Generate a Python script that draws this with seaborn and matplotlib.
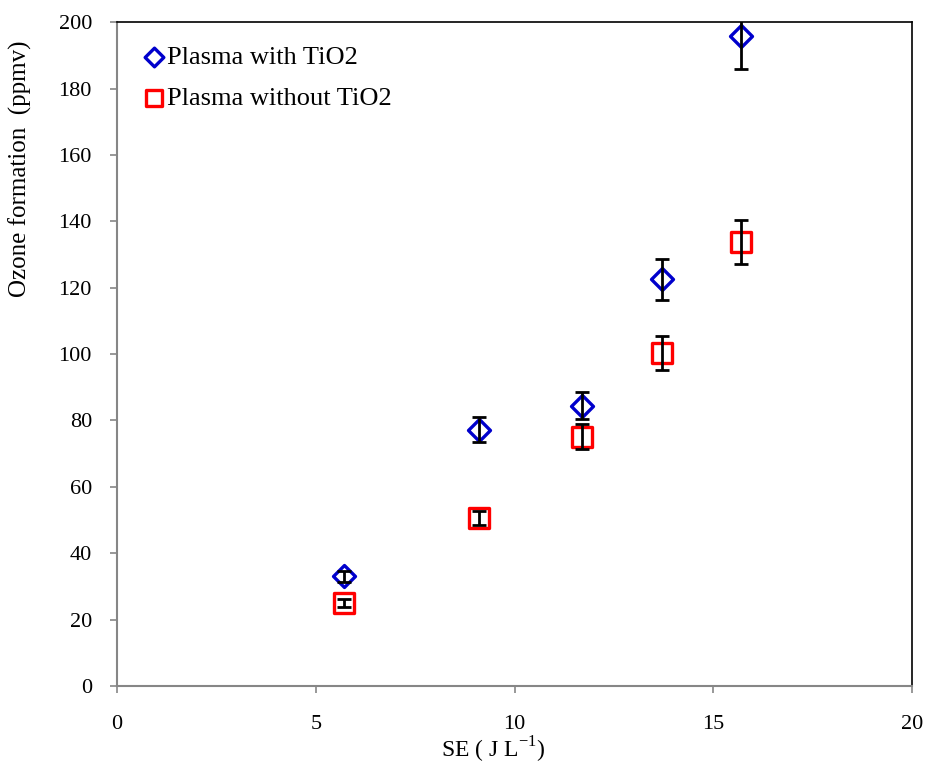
import numpy as np
import pandas as pd
import matplotlib
matplotlib.use("Agg")
import matplotlib.pyplot as plt
import seaborn as sns

# data
se = [5.7, 9.1, 11.7, 13.7, 15.7]
ozone_tio2 = [33.0, 77.2, 84.4, 122.5, 195.8]
err_tio2 = [1.7, 3.8, 4.1, 6.2, 10.0]
ozone_plain = [25.0, 50.6, 75.1, 100.3, 133.8]
err_plain = [1.3, 2.0, 3.8, 5.0, 6.7]
labels = ["Plasma with TiO2", "Plasma without TiO2"]

sns.set_style("white")
plt.rcParams["font.family"] = ["Liberation Serif", "DejaVu Serif"]
plt.rcParams["mathtext.fontset"] = "custom"
plt.rcParams["mathtext.rm"] = "Liberation Serif"
plt.rcParams["text.color"] = "black"
plt.rcParams["axes.labelcolor"] = "black"

df = pd.DataFrame({
    "SE": se * 2,
    "Ozone": ozone_tio2 + ozone_plain,
    "err": err_tio2 + err_plain,
    "Serie": [labels[0]] * len(se) + [labels[1]] * len(se),
})

fig = plt.figure(figsize=(9.28, 7.63), dpi=100)
ax = fig.add_axes([0.126, 0.101, 0.857, 0.870])

estilos = {labels[0]: ("D", "#0000CC", 125), labels[1]: ("s", "#FF0000", 200)}
for nome, sub in df.groupby("Serie", sort=False):
    marker, cor, tam = estilos[nome]
    sns.scatterplot(data=sub, x="SE", y="Ozone", marker=marker, s=tam,
                    facecolor="white", edgecolor=cor, linewidth=2.4,
                    ax=ax, zorder=3, label=nome)
    ax.errorbar(sub["SE"], sub["Ozone"], yerr=sub["err"], fmt="none",
                ecolor="black", elinewidth=2, capsize=5, capthick=2, zorder=4)

ax.set_xlim(0, 20)
ax.set_ylim(0, 200)
ax.set_xticks(np.arange(0, 21, 5))
ax.set_yticks(np.arange(0, 201, 20))
ax.tick_params(axis="both", direction="out", length=5, width=1.2, color="#868686",
               labelsize=16, labelcolor="black", bottom=True, left=True)
ax.tick_params(axis="y", pad=13)
ax.tick_params(axis="x", pad=16)

for lado in ["left", "bottom"]:
    ax.spines[lado].set_color("#868686")
    ax.spines[lado].set_linewidth(1.5)
for lado in ["top", "right"]:
    ax.spines[lado].set_color("black")
    ax.spines[lado].set_linewidth(1.2)

ax.set_xlabel("SE ( J L$^{\\mathregular{-1}}$)", fontsize=17)
ax.xaxis.set_label_coords(0.473, -0.073)
ax.set_ylabel("Ozone formation  (ppmv)", fontsize=18)
ax.yaxis.set_label_coords(-0.107, 0.779)

leg = ax.legend(loc="upper left", frameon=False, fontsize=19, markerscale=0.85,
                handletextpad=0.0, handlelength=1.0, borderaxespad=0.4,
                labelspacing=0.65, borderpad=0.5)

fig.savefig("out.png", dpi=100)
